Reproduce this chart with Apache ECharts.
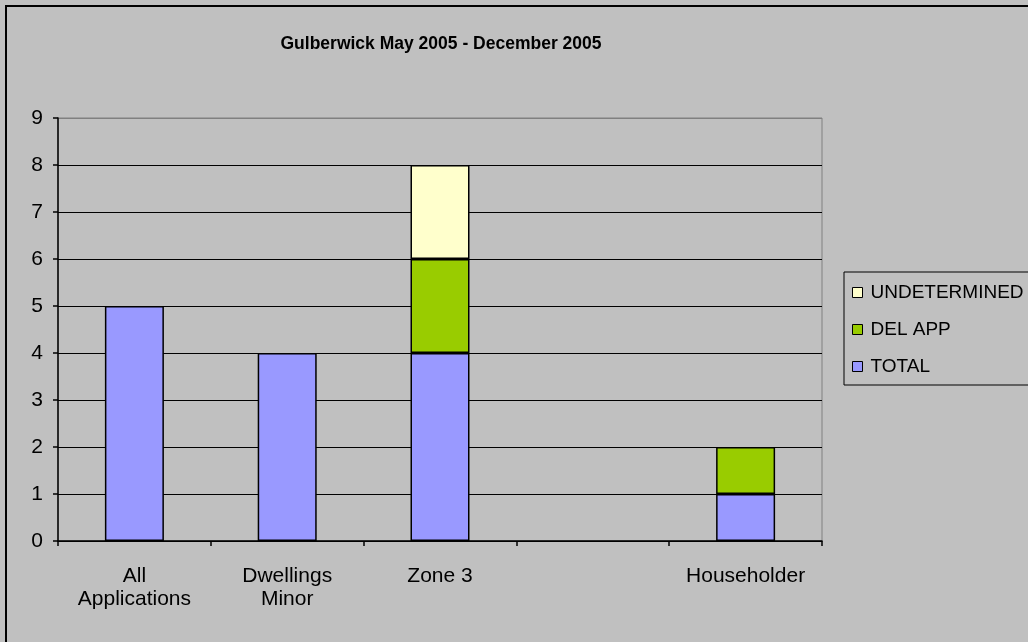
<!DOCTYPE html>
<html>
<head>
<meta charset="utf-8">
<script src="https://cdn.jsdelivr.net/npm/echarts@6/dist/echarts.min.js"></script>
<style>
  html, body { margin: 0; padding: 0; background: #c0c0c0; }
  #chart { width: 1028px; height: 642px; }
</style>
</head>
<body>
<div id="chart"></div>
<script>
// data
const categories = ['All\nApplications', 'Dwellings\nMinor', 'Zone 3', '', 'Householder']
const total = [5, 4, 4, null, 1]
const delApp = [null, null, 2, null, 1]
const undetermined = [null, null, 2, null, null]
const yTicks = [0, 9, 1] // min, max, interval

const font = "'Liberation Sans', Arial, sans-serif"
const chart = echarts.init(document.getElementById('chart'))

const barStyle = color => ({ color: color, borderColor: '#000', borderWidth: 1.5 })

chart.setOption({
  backgroundColor: '#c0c0c0',
  animation: false,
  textStyle: { fontFamily: font, color: '#000' },
  title: {
    text: 'Gulberwick May 2005 - December 2005',
    left: 436,
    top: 30,
    textAlign: 'center',
    textStyle: { fontFamily: font, fontSize: 17.5, fontWeight: 'bold', color: '#000' }
  },
  // outer chart frame (cropped at right and bottom)
  graphic: [{
    type: 'rect',
    shape: { x: 6, y: 6, width: 1200, height: 800 },
    style: { fill: null, stroke: '#000', lineWidth: 2 },
    silent: true
  }],
  legend: {
    data: ['UNDETERMINED', 'DEL APP', 'TOTAL'],
    orient: 'vertical',
    left: 844,
    top: 272,
    padding: [11, 60, 9, 8],
    itemGap: 18,
    itemWidth: 10,
    itemHeight: 10,
    icon: 'rect',
    borderColor: '#000',
    borderWidth: 1,
    itemStyle: { borderColor: '#000', borderWidth: 1 },
    textStyle: { fontFamily: font, fontSize: 19, color: '#000', padding: [0, 0, 0, 3] }
  },
  grid: {
    left: 58,
    right: 206,
    top: 118,
    bottom: 101,
    show: true,
    borderColor: '#808080',
    borderWidth: 1,
    backgroundColor: 'transparent'
  },
  xAxis: {
    type: 'category',
    data: categories,
    axisLine: { lineStyle: { color: '#000', width: 1.5 } },
    axisTick: { show: true, length: 5, lineStyle: { color: '#000', width: 1.5 } },
    axisLabel: { fontFamily: font, fontSize: 21, color: '#000', margin: 24, lineHeight: 23, interval: 0 }
  },
  yAxis: {
    type: 'value',
    min: yTicks[0],
    max: yTicks[1],
    interval: yTicks[2],
    axisLine: { show: true, lineStyle: { color: '#000', width: 1.5 } },
    axisTick: { show: true, length: 5, lineStyle: { color: '#000', width: 1.5 } },
    axisLabel: { fontFamily: font, fontSize: 21, color: '#000', margin: 15 },
    splitLine: {
      lineStyle: {
        color: ['#000', '#000', '#000', '#000', '#000', '#000', '#000', '#000', '#000', '#808080'],
        width: 1
      }
    }
  },
  series: [
    {
      name: 'TOTAL',
      type: 'bar',
      stack: 'all',
      barWidth: 59,
      itemStyle: barStyle('#9999ff'),
      data: total
    },
    {
      name: 'DEL APP',
      type: 'bar',
      stack: 'all',
      barWidth: 59,
      itemStyle: barStyle('#99cc00'),
      data: delApp
    },
    {
      name: 'UNDETERMINED',
      type: 'bar',
      stack: 'all',
      barWidth: 59,
      itemStyle: barStyle('#ffffcc'),
      data: undetermined
    }
  ]
})
</script>
</body>
</html>
